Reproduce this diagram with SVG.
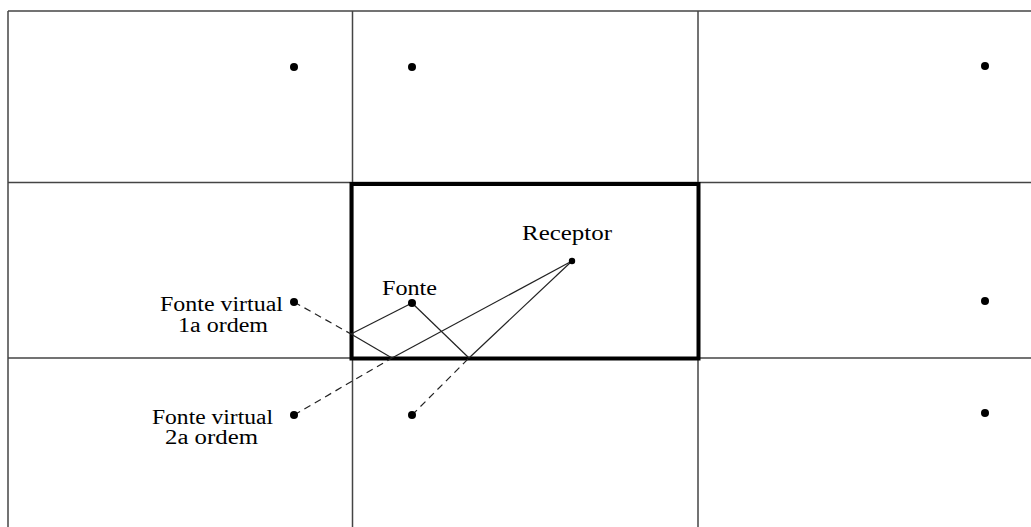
<svg xmlns="http://www.w3.org/2000/svg" width="1031" height="527" viewBox="0 0 1031 527">
<style>
.grid{stroke:#444;stroke-width:1.5;fill:none}
.room{stroke:#000;stroke-width:4;fill:none}
.ray{stroke:#222;stroke-width:1.2;fill:none}
.dash{stroke:#222;stroke-width:1.2;fill:none;stroke-dasharray:7,5}
.dot{fill:#000}
text{font-family:"Liberation Serif","Times New Roman",serif;font-size:20.5px;fill:#000}
</style>
<rect width="1031" height="527" fill="#fff"/>
<g id="grid">
<line class="grid" x1="8" y1="11" x2="1031" y2="11"/>
<line class="grid" x1="8" y1="182.5" x2="1031" y2="182.5"/>
<line class="grid" x1="8" y1="358" x2="1031" y2="358"/>
<line class="grid" x1="8" y1="11" x2="8" y2="527"/>
<line class="grid" x1="352.5" y1="11" x2="352.5" y2="527"/>
<line class="grid" x1="698" y1="11" x2="698" y2="527"/>
</g>
<g id="room"><rect class="room" x="351.5" y="184" width="347" height="174.5"/></g>
<g id="connectors">
<line class="dash" x1="294" y1="302" x2="351" y2="334"/>
<line class="ray" x1="412" y1="303" x2="351" y2="334"/>
<line class="ray" x1="351" y1="334" x2="392" y2="358"/>
<line class="dash" x1="294" y1="415" x2="392" y2="358"/>
<line class="ray" x1="392" y1="358" x2="572" y2="261"/>
<line class="ray" x1="412" y1="303" x2="469" y2="358"/>
<line class="dash" x1="412" y1="415" x2="469" y2="358"/>
<line class="ray" x1="469" y1="358" x2="572" y2="261"/>
</g>
<g id="images-top">
<circle class="dot" cx="294" cy="67" r="4"/>
<circle class="dot" cx="412" cy="67" r="4"/>
<circle class="dot" cx="985" cy="66" r="4"/>
</g>
<g id="images-right">
<circle class="dot" cx="985" cy="301" r="4"/>
<circle class="dot" cx="985" cy="413" r="4"/>
</g>
<g id="image-bottom"><circle class="dot" cx="412" cy="415" r="4"/></g>
<g id="fonte"><circle class="dot" cx="412" cy="303" r="4"/><text x="382" y="295" textLength="55" lengthAdjust="spacingAndGlyphs">Fonte</text></g>
<g id="receptor"><circle class="dot" cx="572" cy="261" r="3.2"/><text x="522" y="240" textLength="90" lengthAdjust="spacingAndGlyphs">Receptor</text></g>
<g id="virtual1"><circle class="dot" cx="294" cy="302" r="4"/><text x="160" y="311" textLength="123" lengthAdjust="spacingAndGlyphs">Fonte virtual</text><text x="178" y="332" textLength="90" lengthAdjust="spacingAndGlyphs">1a ordem</text></g>
<g id="virtual2"><circle class="dot" cx="294" cy="415" r="4"/><text x="152" y="424" textLength="121" lengthAdjust="spacingAndGlyphs">Fonte virtual</text><text x="165" y="444" textLength="93" lengthAdjust="spacingAndGlyphs">2a ordem</text></g>
</svg>
